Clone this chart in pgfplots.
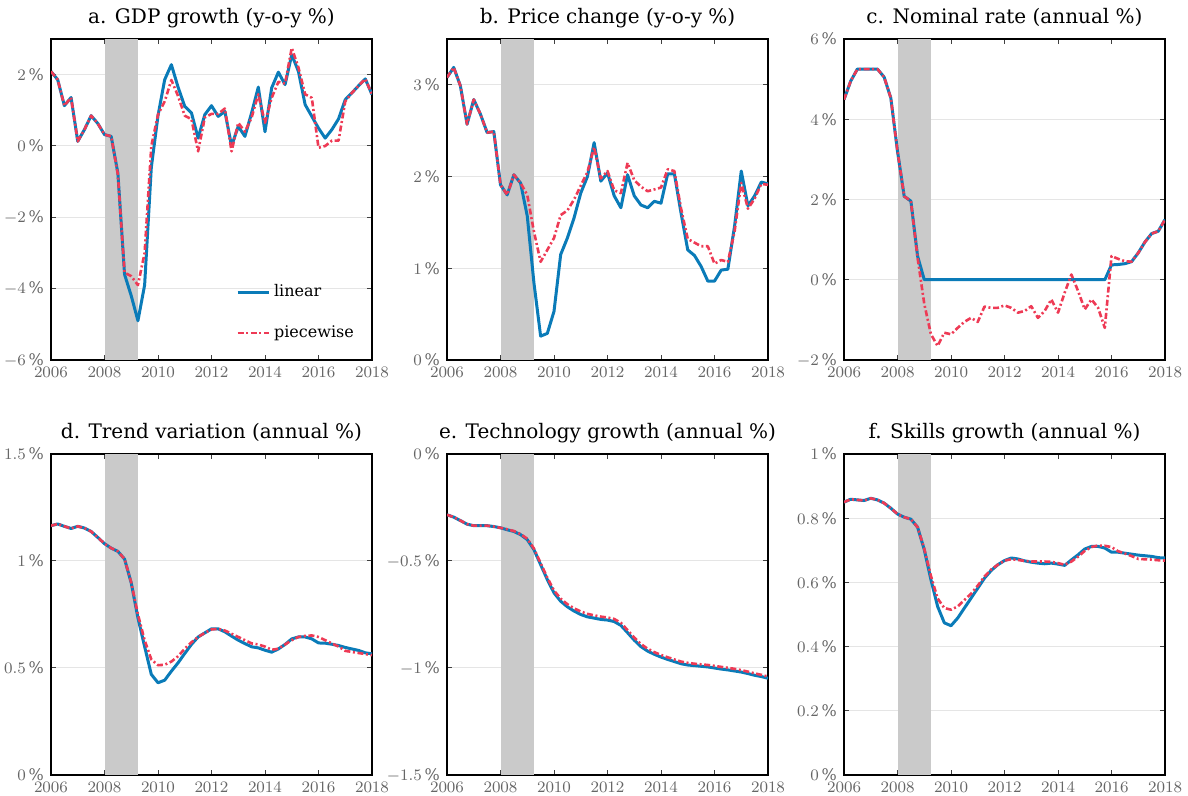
\documentclass[border=0pt]{standalone}
\usepackage{fontspec}
\setmainfont{DejaVu Serif}
\usepackage{pgfplots}
\usepackage{pgfplotstable}
\pgfplotsset{compat=1.18}
\definecolor{linblue}{HTML}{0A7BB8}
\definecolor{pwred}{HTML}{EE3A55}
\definecolor{shadegray}{HTML}{CACACA}

\pgfplotstableread{
t lin pw
2006.00 2.09 2.09
2006.25 1.86 1.86
2006.50 1.13 1.13
2006.75 1.36 1.36
2007.00 0.13 0.13
2007.25 0.46 0.46
2007.50 0.85 0.85
2007.75 0.63 0.63
2008.00 0.32 0.32
2008.25 0.27 0.27
2008.50 -0.76 -0.80
2008.75 -3.60 -3.55
2009.00 -4.20 -3.65
2009.25 -4.90 -3.90
2009.50 -3.90 -3.00
2009.75 -0.60 0.00
2010.00 0.85 0.88
2010.25 1.86 1.25
2010.50 2.28 1.85
2010.75 1.65 1.40
2011.00 1.11 0.85
2011.25 0.93 0.75
2011.50 0.22 -0.15
2011.75 0.88 0.80
2012.00 1.13 0.90
2012.25 0.83 0.90
2012.50 0.97 1.05
2012.75 0.00 -0.15
2013.00 0.55 0.65
2013.25 0.27 0.40
2013.50 0.93 0.80
2013.75 1.65 1.45
2014.00 0.40 0.65
2014.25 1.63 1.35
2014.50 2.07 1.80
2014.75 1.72 1.75
2015.00 2.56 2.75
2015.25 2.09 2.20
2015.50 1.16 1.45
2015.75 0.83 1.35
2016.00 0.50 -0.05
2016.25 0.22 0.00
2016.50 0.46 0.15
2016.75 0.76 0.15
2017.00 1.30 1.25
2017.25 1.49 1.49
2017.50 1.69 1.69
2017.75 1.88 1.88
2018.00 1.44 1.44
}\dataA

\pgfplotstableread{
t lin pw
2006.00 3.08 3.08
2006.25 3.19 3.19
2006.50 2.99 2.99
2006.75 2.57 2.57
2007.00 2.84 2.84
2007.25 2.68 2.68
2007.50 2.48 2.48
2007.75 2.49 2.49
2008.00 1.91 1.91
2008.25 1.80 1.80
2008.50 2.02 2.02
2008.75 1.93 1.93
2009.00 1.57 1.80
2009.25 0.84 1.40
2009.50 0.26 1.07
2009.75 0.29 1.20
2010.00 0.53 1.33
2010.25 1.15 1.58
2010.50 1.33 1.63
2010.75 1.55 1.75
2011.00 1.82 1.90
2011.25 2.00 2.05
2011.50 2.37 2.32
2011.75 1.95 1.98
2012.00 2.04 2.06
2012.25 1.79 1.85
2012.50 1.66 1.82
2012.75 2.02 2.15
2013.00 1.79 1.96
2013.25 1.69 1.89
2013.50 1.66 1.84
2013.75 1.73 1.86
2014.00 1.71 1.88
2014.25 2.03 2.08
2014.50 2.03 2.06
2014.75 1.60 1.65
2015.00 1.20 1.32
2015.25 1.14 1.28
2015.50 1.02 1.24
2015.75 0.86 1.24
2016.00 0.86 1.05
2016.25 0.98 1.09
2016.50 0.99 1.07
2016.75 1.46 1.40
2017.00 2.06 1.93
2017.25 1.68 1.65
2017.50 1.79 1.76
2017.75 1.94 1.92
2018.00 1.92 1.91
}\dataB

\pgfplotstableread{
t lin pw
2006.00 4.49 4.49
2006.25 4.95 4.95
2006.50 5.25 5.25
2006.75 5.25 5.25
2007.00 5.25 5.25
2007.25 5.25 5.25
2007.50 5.05 5.05
2007.75 4.53 4.53
2008.00 3.20 3.20
2008.25 2.08 2.08
2008.50 1.96 1.96
2008.75 0.59 0.55
2009.00 0.00 -0.60
2009.25 0.00 -1.36
2009.50 0.00 -1.65
2009.75 0.00 -1.32
2010.00 0.00 -1.36
2010.25 0.00 -1.20
2010.50 0.00 -1.05
2010.75 0.00 -0.95
2011.00 0.00 -1.05
2011.25 0.00 -0.67
2011.50 0.00 -0.70
2011.75 0.00 -0.70
2012.00 0.00 -0.64
2012.25 0.00 -0.70
2012.50 0.00 -0.82
2012.75 0.00 -0.78
2013.00 0.00 -0.66
2013.25 0.00 -0.95
2013.50 0.00 -0.78
2013.75 0.00 -0.49
2014.00 0.00 -0.82
2014.25 0.00 -0.32
2014.50 0.00 0.13
2014.75 0.00 -0.28
2015.00 0.00 -0.74
2015.25 0.00 -0.49
2015.50 0.00 -0.70
2015.75 0.00 -1.20
2016.00 0.37 0.59
2016.25 0.38 0.52
2016.50 0.40 0.46
2016.75 0.45 0.45
2017.00 0.67 0.67
2017.25 0.94 0.94
2017.50 1.15 1.15
2017.75 1.21 1.21
2018.00 1.50 1.50
}\dataC

\pgfplotstableread{
t lin pw
2006.00 1.165 1.165
2006.25 1.173 1.173
2006.50 1.162 1.162
2006.75 1.152 1.152
2007.00 1.162 1.162
2007.25 1.154 1.154
2007.50 1.138 1.138
2007.75 1.110 1.110
2008.00 1.081 1.081
2008.25 1.060 1.060
2008.50 1.045 1.045
2008.75 1.009 1.009
2009.00 0.897 0.900
2009.25 0.734 0.750
2009.50 0.600 0.630
2009.75 0.470 0.540
2010.00 0.431 0.513
2010.25 0.443 0.515
2010.50 0.485 0.530
2010.75 0.524 0.555
2011.00 0.568 0.590
2011.25 0.610 0.620
2011.50 0.645 0.645
2011.75 0.664 0.664
2012.00 0.683 0.680
2012.25 0.683 0.683
2012.50 0.669 0.675
2012.75 0.649 0.660
2013.00 0.630 0.645
2013.25 0.614 0.630
2013.50 0.599 0.615
2013.75 0.594 0.610
2014.00 0.583 0.600
2014.25 0.574 0.585
2014.50 0.589 0.590
2014.75 0.610 0.610
2015.00 0.636 0.630
2015.25 0.645 0.645
2015.50 0.645 0.650
2015.75 0.636 0.652
2016.00 0.617 0.645
2016.25 0.616 0.630
2016.50 0.611 0.615
2016.75 0.605 0.600
2017.00 0.596 0.580
2017.25 0.589 0.575
2017.50 0.582 0.570
2017.75 0.571 0.565
2018.00 0.566 0.560
}\dataD

\pgfplotstableread{
t lin pw
2006.00 -0.284 -0.284
2006.25 -0.295 -0.295
2006.50 -0.311 -0.311
2006.75 -0.328 -0.328
2007.00 -0.335 -0.335
2007.25 -0.335 -0.335
2007.50 -0.335 -0.335
2007.75 -0.339 -0.339
2008.00 -0.345 -0.345
2008.25 -0.354 -0.352
2008.50 -0.362 -0.360
2008.75 -0.377 -0.374
2009.00 -0.400 -0.396
2009.25 -0.447 -0.442
2009.50 -0.517 -0.510
2009.75 -0.587 -0.578
2010.00 -0.649 -0.638
2010.25 -0.688 -0.676
2010.50 -0.714 -0.702
2010.75 -0.734 -0.721
2011.00 -0.750 -0.736
2011.25 -0.761 -0.747
2011.50 -0.767 -0.754
2011.75 -0.773 -0.760
2012.00 -0.776 -0.764
2012.25 -0.783 -0.771
2012.50 -0.801 -0.789
2012.75 -0.835 -0.823
2013.00 -0.870 -0.858
2013.25 -0.900 -0.888
2013.50 -0.921 -0.910
2013.75 -0.936 -0.926
2014.00 -0.949 -0.939
2014.25 -0.960 -0.950
2014.50 -0.970 -0.960
2014.75 -0.980 -0.970
2015.00 -0.986 -0.976
2015.25 -0.989 -0.980
2015.50 -0.992 -0.983
2015.75 -0.995 -0.986
2016.00 -1.000 -0.990
2016.25 -1.005 -0.995
2016.50 -1.009 -0.999
2016.75 -1.014 -1.004
2017.00 -1.019 -1.010
2017.25 -1.026 -1.017
2017.50 -1.034 -1.025
2017.75 -1.040 -1.032
2018.00 -1.048 -1.040
}\dataE

\pgfplotstableread{
t lin pw
2006.00 0.850 0.850
2006.25 0.859 0.859
2006.50 0.857 0.857
2006.75 0.855 0.855
2007.00 0.862 0.862
2007.25 0.857 0.857
2007.50 0.847 0.847
2007.75 0.831 0.831
2008.00 0.813 0.813
2008.25 0.803 0.803
2008.50 0.797 0.797
2008.75 0.772 0.772
2009.00 0.702 0.705
2009.25 0.608 0.620
2009.50 0.525 0.550
2009.75 0.474 0.520
2010.00 0.465 0.515
2010.25 0.489 0.525
2010.50 0.520 0.545
2010.75 0.551 0.565
2011.00 0.582 0.590
2011.25 0.613 0.618
2011.50 0.637 0.640
2011.75 0.655 0.655
2012.00 0.668 0.668
2012.25 0.676 0.672
2012.50 0.673 0.670
2012.75 0.667 0.667
2013.00 0.663 0.665
2013.25 0.660 0.665
2013.50 0.658 0.665
2013.75 0.660 0.664
2014.00 0.657 0.660
2014.25 0.653 0.655
2014.50 0.670 0.665
2014.75 0.686 0.680
2015.00 0.704 0.698
2015.25 0.712 0.710
2015.50 0.712 0.715
2015.75 0.707 0.714
2016.00 0.694 0.710
2016.25 0.694 0.697
2016.50 0.691 0.690
2016.75 0.688 0.682
2017.00 0.685 0.673
2017.25 0.683 0.672
2017.50 0.681 0.671
2017.75 0.677 0.669
2018.00 0.676 0.668
}\dataF

\pgfplotsset{
  panel/.style={
    scale only axis, width=160.5pt, height=160.5pt,
    anchor=south west,
    xmin=2006, xmax=2018,
    xtick={2006,2008,...,2018},
    /pgf/number format/1000 sep={},
    yticklabel={$\pgfmathprintnumber{\tick}\,\%$},
    ticklabel style={font=\fontsize{8}{9}\selectfont, text=black!60},
    tick align=inside,
    major tick length=2.6pt,
    major tick style={black!75, line width=0.5pt},
    axis line style={black, line width=0.7pt},
    ymajorgrids,
    major grid style={black!10, line width=0.5pt},
    every axis title/.style={font=\fontsize{10}{12}\selectfont, at={(0.5,1)}, anchor=base, yshift=7.5pt},
    clip=true,
  },
  lin/.style={color=linblue, line width=1.5pt, line join=round},
  pw/.style={color=pwred, line width=1.3pt, line join=round, dash pattern=on 3pt off 1.3pt on 1pt off 1.3pt},
}

\begin{document}
\begin{tikzpicture}
% a
\begin{axis}[panel, at={(25.5pt,218pt)}, ymin=-6, ymax=3, ytick={-6,-4,-2,0,2},
  title={a. GDP growth (y-o-y \%)},
  legend style={draw=none, fill=none, at={(0.569,0.255)}, anchor=north west,
    font=\fontsize{8}{9}\selectfont, row sep=9pt, inner sep=1pt},
  legend cell align=left,
  legend image code/.code={\draw[#1] (0pt,0pt) -- (15.5pt,0pt);}]
\addplot[draw=none, fill=shadegray, forget plot] coordinates {(2008,-6) (2009.25,-6) (2009.25,3) (2008,3)} -- cycle;
\addplot[lin] table[x=t, y=lin] {\dataA};
\addplot[pw] table[x=t, y=pw] {\dataA};
\legend{linear, piecewise}
\end{axis}
% b
\begin{axis}[panel, at={(223.5pt,218pt)}, ymin=0, ymax=3.5, ytick={0,1,2,3},
  title={b. Price change (y-o-y \%)}]
\addplot[draw=none, fill=shadegray, forget plot] coordinates {(2008,0) (2009.25,0) (2009.25,3.5) (2008,3.5)} -- cycle;
\addplot[lin] table[x=t, y=lin] {\dataB};
\addplot[pw] table[x=t, y=pw] {\dataB};
\end{axis}
% c
\begin{axis}[panel, at={(422pt,218pt)}, ymin=-2, ymax=6, ytick={-2,0,2,4,6},
  title={c. Nominal rate (annual \%)}]
\addplot[draw=none, fill=shadegray, forget plot] coordinates {(2008,-2) (2009.25,-2) (2009.25,6) (2008,6)} -- cycle;
\addplot[lin] table[x=t, y=lin] {\dataC};
\addplot[pw] table[x=t, y=pw] {\dataC};
\end{axis}
% d
\begin{axis}[panel, at={(25.5pt,10.5pt)}, ymin=0, ymax=1.5, ytick={0,0.5,1,1.5},
  title={d. Trend variation (annual \%)}]
\addplot[draw=none, fill=shadegray, forget plot] coordinates {(2008,0) (2009.25,0) (2009.25,1.5) (2008,1.5)} -- cycle;
\addplot[lin] table[x=t, y=lin] {\dataD};
\addplot[pw] table[x=t, y=pw] {\dataD};
\end{axis}
% e
\begin{axis}[panel, at={(223.5pt,10.5pt)}, ymin=-1.5, ymax=0, ytick={-1.5,-1,-0.5,0},
  title={e. Technology growth (annual \%)}]
\addplot[draw=none, fill=shadegray, forget plot] coordinates {(2008,-1.5) (2009.25,-1.5) (2009.25,0) (2008,0)} -- cycle;
\addplot[lin] table[x=t, y=lin] {\dataE};
\addplot[pw] table[x=t, y=pw] {\dataE};
\end{axis}
% f
\begin{axis}[panel, at={(422pt,10.5pt)}, ymin=0, ymax=1, ytick={0,0.2,0.4,0.6,0.8,1},
  title={f. Skills growth (annual \%)}]
\addplot[draw=none, fill=shadegray, forget plot] coordinates {(2008,0) (2009.25,0) (2009.25,1) (2008,1)} -- cycle;
\addplot[lin] table[x=t, y=lin] {\dataF};
\addplot[pw] table[x=t, y=pw] {\dataF};
\end{axis}
\pgfresetboundingbox
\useasboundingbox (0pt,0pt) rectangle (594pt,398pt);
\end{tikzpicture}
\end{document}
